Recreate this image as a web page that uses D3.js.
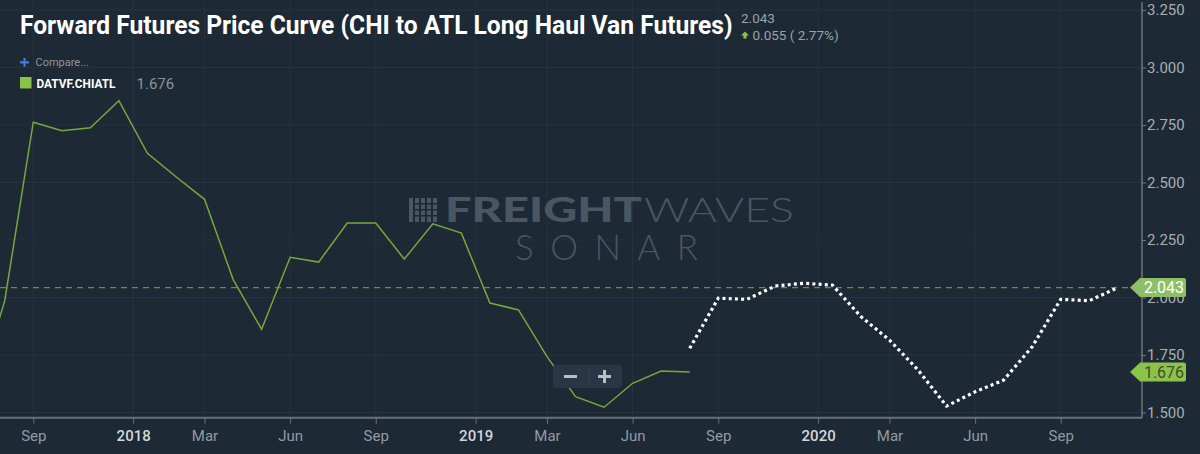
<!DOCTYPE html>
<html>
<head>
<meta charset="utf-8">
<script src="https://cdn.jsdelivr.net/npm/d3@7"></script>
<style>
  html, body { margin: 0; padding: 0; background: #1d2935; }
  svg { display: block; font-family: Roboto, "Noto Sans", sans-serif; }
</style>
</head>
<body>
<svg id="chart" width="1200" height="454"></svg>
<script>
// monthly points, Jul 2017 .. Nov 2020
const months = d3.timeMonth.range(new Date(2017, 6, 1), new Date(2020, 11, 1));

// DATVF.CHIATL history, Jul 2017 .. Aug 2019
const spotValues = [1.573, 1.986, 2.762, 2.725, 2.738, 2.856, 2.627, 2.525, 2.427, 2.079,
  1.862, 2.175, 2.154, 2.324, 2.324, 2.167, 2.320, 2.280, 1.976, 1.946,
  1.743, 1.569, 1.523, 1.627, 1.680, 1.676];
// forward curve, Aug 2019 .. Nov 2020
const forwardValues = [1.779, 1.997, 1.992, 2.050, 2.062, 2.054, 1.917, 1.815, 1.685, 1.528,
  1.590, 1.641, 1.786, 1.992, 1.986, 2.043];
const forwardStart = 25;

const yTicks = [1.5, 1.75, 2.0, 2.25, 2.5, 2.75, 3.0, 3.25];
const monthTicks = ["2017-09", "2018-03", "2018-06", "2018-09", "2019-03", "2019-06",
  "2019-09", "2020-03", "2020-06", "2020-09"];
const yearTicks = ["2018", "2019", "2020"];

const lastPrice = 2.043;
const lastChange = 0.055;
const lastChangePct = 2.77;
const spotLast = 1.676;

const titleText = "Forward Futures Price Curve (CHI to ATL Long Haul Van Futures)";
const seriesName = "DATVF.CHIATL";

const W = 1200, H = 454;
const plotRight = 1142, plotBottom = 417.7;

const svg = d3.select("#chart");
const key = d3.timeFormat("%Y-%m");
const monthKeys = months.map(key);

const x = d3.scaleLinear().domain([0, months.length - 1]).range([-23.8, 1117.8]);
const y = d3.scaleLinear().domain([1.5, 3.25]).range([412.5, 10]);

svg.append("rect").attr("width", W).attr("height", H).attr("fill", "#1d2935");

svg.append("clipPath").attr("id", "plot-clip")
  .append("rect").attr("x", 0).attr("y", 0).attr("width", plotRight).attr("height", plotBottom);

// x tick positions: month ticks on the point, year ticks half a step before January
let xTicks = monthTicks.map(function(m){
  let d = d3.timeParse("%Y-%m")(m);
  return {pos: monthKeys.indexOf(m), label: d3.timeFormat("%b")(d), year: false};
});
yearTicks.forEach(function(yr){
  xTicks.push({pos: monthKeys.indexOf(yr + "-01") - 0.5, label: yr, year: true});
});
xTicks.sort(function(a, b){ return a.pos - b.pos; });

// grid
let grid = svg.append("g").attr("stroke", "#26333f").attr("stroke-width", 1);
grid.selectAll(".vg").data(xTicks).enter().append("line")
  .attr("x1", d => x(d.pos)).attr("x2", d => x(d.pos))
  .attr("y1", 0).attr("y2", plotBottom);
grid.selectAll(".hg").data(yTicks).enter().append("line")
  .attr("x1", 0).attr("x2", plotRight)
  .attr("y1", d => y(d)).attr("y2", d => y(d));

// watermark
let wm = svg.append("g").attr("fill", "#4a5662");
[0, 6, 12, 18, 24].forEach(function(dx){
  wm.append("rect").attr("x", 409 + dx).attr("y", 198).attr("width", 4).attr("height", 24);
});
wm.selectAll(".cut").data([203, 209, 215]).enter().append("rect")
  .attr("x", 414).attr("y", d => d).attr("width", 24).attr("height", 1.5).attr("fill", "#1d2935");
wm.append("text").attr("x", 445).attr("y", 222)
  .attr("font-family", "Lato, 'Open Sans', sans-serif").attr("font-weight", 900)
  .attr("font-size", 34).attr("textLength", 197).attr("lengthAdjust", "spacingAndGlyphs")
  .text("FREIGHT");
wm.append("text").attr("x", 644).attr("y", 222)
  .attr("font-family", "Lato, 'Open Sans', sans-serif").attr("font-weight", 300)
  .attr("font-size", 34).attr("textLength", 150).attr("lengthAdjust", "spacingAndGlyphs")
  .text("WAVES");
wm.append("text").attr("x", 515).attr("y", 260)
  .attr("font-family", "Lato, 'Open Sans', sans-serif").attr("font-weight", 300)
  .attr("font-size", 35).attr("textLength", 183).attr("lengthAdjust", "spacing")
  .text("SONAR");

// last price line
svg.append("line")
  .attr("x1", 0).attr("x2", 1131)
  .attr("y1", y(lastPrice)).attr("y2", y(lastPrice))
  .attr("stroke", "#63933a").attr("stroke-width", 1.3).attr("stroke-dasharray", "6,5");

let plot = svg.append("g").attr("clip-path", "url(#plot-clip)");

let line = d3.line().x(d => x(d.i)).y(d => y(d.v));

plot.append("path")
  .datum(spotValues.map((v, i) => ({i: i, v: v})))
  .attr("d", line)
  .attr("fill", "none").attr("stroke", "#76a83a").attr("stroke-width", 1.5)
  .attr("stroke-linejoin", "miter");

plot.append("path")
  .datum(forwardValues.map((v, i) => ({i: i + forwardStart, v: v})))
  .attr("d", line)
  .attr("fill", "none").attr("stroke", "#ffffff").attr("stroke-width", 3.2)
  .attr("stroke-dasharray", "3,3.2");

// x axis
svg.append("line").attr("x1", 0).attr("x2", plotRight)
  .attr("y1", plotBottom).attr("y2", plotBottom)
  .attr("stroke", "#68727b").attr("stroke-width", 2);

let xAxis = svg.append("g").attr("transform", `translate(0,${plotBottom})`)
  .call(d3.axisBottom(x)
    .tickValues(xTicks.map(d => d.pos))
    .tickSize(6).tickSizeOuter(0).tickPadding(7)
    .tickFormat(function(p){ return xTicks.find(t => t.pos === p).label; }));
xAxis.select(".domain").remove();
xAxis.selectAll(".tick line").attr("stroke", "#68727b");
xAxis.selectAll(".tick text")
  .attr("font-family", "Roboto, sans-serif").attr("font-size", 15)
  .attr("fill", function(p){ return xTicks.find(t => t.pos === p).year ? "#d3d7db" : "#929ba3"; })
  .attr("font-weight", function(p){ return xTicks.find(t => t.pos === p).year ? 500 : 400; });

// y axis
svg.append("line").attr("x1", plotRight).attr("x2", plotRight)
  .attr("y1", 2).attr("y2", plotBottom)
  .attr("stroke", "#6d767e").attr("stroke-width", 1.5);

let yAxis = svg.append("g").attr("transform", `translate(${plotRight},0)`)
  .call(d3.axisRight(y).tickValues(yTicks).tickFormat(d3.format(".3f"))
    .tickSize(4).tickSizeOuter(0).tickPadding(1));
yAxis.select(".domain").remove();
yAxis.selectAll(".tick line").attr("stroke", "#6d767e");
yAxis.selectAll(".tick text")
  .attr("font-family", "Roboto, sans-serif").attr("font-size", 15).attr("fill", "#a7aeb4");

// price flags on the axis
const flags = [
  {v: lastPrice, fill: "#8dbf66", color: "#ffffff"},
  {v: spotLast, fill: "#8bc34a", color: "#3c4f2c"}
];
let flag = svg.selectAll(".flag").data(flags).enter().append("g")
  .attr("transform", d => `translate(1130,${y(d.v)})`);
flag.append("path")
  .attr("d", "M0,0 L10,-9.5 L54,-9.5 Q56,-9.5 56,-7.5 L56,7.5 Q56,9.5 54,9.5 L10,9.5 Z")
  .attr("fill", d => d.fill);
flag.append("text")
  .attr("x", 34).attr("y", 5.5).attr("text-anchor", "middle")
  .attr("font-family", "Roboto, sans-serif").attr("font-size", 16)
  .attr("fill", d => d.color)
  .text(d => d3.format(".3f")(d.v));

// zoom buttons
let zoomBox = svg.append("g");
zoomBox.append("rect").attr("x", 553).attr("y", 365).attr("width", 69).attr("height", 23)
  .attr("rx", 3).attr("fill", "#283645");
zoomBox.append("line").attr("x1", 589).attr("x2", 589).attr("y1", 369).attr("y2", 384)
  .attr("stroke", "#34424f");
zoomBox.append("line").attr("x1", 564).attr("x2", 577).attr("y1", 376.5).attr("y2", 376.5)
  .attr("stroke", "#b8bec4").attr("stroke-width", 3);
zoomBox.append("line").attr("x1", 598).attr("x2", 611).attr("y1", 376.5).attr("y2", 376.5)
  .attr("stroke", "#b8bec4").attr("stroke-width", 3);
zoomBox.append("line").attr("x1", 604.5).attr("x2", 604.5).attr("y1", 370).attr("y2", 383)
  .attr("stroke", "#b8bec4").attr("stroke-width", 3);

// title, squeezed to a condensed width with a transform
let title = svg.append("text").attr("x", 0).attr("y", 0)
  .attr("font-family", "Roboto, sans-serif").attr("font-weight", 700).attr("font-size", 26)
  .attr("fill", "#ffffff")
  .text(titleText);
let titleScale = 713 / title.node().getComputedTextLength();
title.attr("transform", `translate(20,33.5) scale(${titleScale},1)`);

svg.append("text").attr("x", 741).attr("y", 22.5)
  .attr("font-size", 13.5).attr("fill", "#9aa2a9").text(d3.format(".3f")(lastPrice));
svg.append("path").attr("d", "M745,31.5 L749,35.5 L746.6,35.5 L746.6,38.5 L743.4,38.5 L743.4,35.5 L741,35.5 Z")
  .attr("fill", "#8bc34a");
svg.append("text").attr("x", 752.5).attr("y", 39.5)
  .attr("font-size", 13.5).attr("fill", "#9aa2a9")
  .text(`${d3.format(".3f")(lastChange)} ( ${lastChangePct}%)`);

// legend
svg.append("path").attr("d", "M20,62.3 L29,62.3 M24.5,58 L24.5,66.7")
  .attr("stroke", "#3b7fd9").attr("stroke-width", 2.2);
svg.append("text").attr("x", 35.5).attr("y", 66).attr("font-size", 11).attr("fill", "#8f989f")
  .text("Compare...");
svg.append("rect").attr("x", 20).attr("y", 77).attr("width", 11.5).attr("height", 11.5)
  .attr("fill", "#8bc34a");
let legendText = svg.append("text").attr("x", 0).attr("y", 0)
  .attr("font-size", 12.5).attr("font-weight", 700).attr("fill", "#ffffff")
  .text(seriesName);
legendText.attr("transform", `translate(36.5,87.5) scale(${79 / legendText.node().getComputedTextLength()},1)`);
svg.append("text").attr("x", 136.5).attr("y", 88.5).attr("font-size", 15).attr("fill", "#8a9299")
  .text(d3.format(".3f")(spotLast));
</script>
</body>
</html>
